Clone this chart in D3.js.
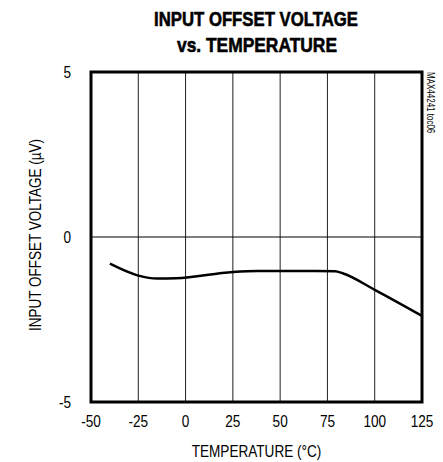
<!DOCTYPE html>
<html>
<head>
<meta charset="utf-8">
<script src="https://cdn.jsdelivr.net/npm/d3@7"></script>
<style>
  body { margin: 0; background: #fff; }
  text { font-family: "Liberation Sans", Arial, sans-serif; }
</style>
</head>
<body>
<div id="chart"></div>
<script>
var width = 443,
    height = 462;

// data
var temps = [-40, -25, -15, -5, 25, 38, 69, 79, 83, 100, 125];
var offsets = [-0.81, -1.17, -1.26, -1.25, -1.06, -1.03, -1.03, -1.04, -1.1, -1.6, -2.39];
var xTicks = [-50, -25, 0, 25, 50, 75, 100, 125];
var yTicks = [-5, 0, 5];

var margin = {left: 91, right: 21, top: 72, bottom: 60};
var narrow = 0.8;

var svg = d3.select("#chart").append("svg")
    .attr("width", width)
    .attr("height", height);

var x = d3.scaleLinear().domain([-50, 125]).range([margin.left, width - margin.right]);
var y = d3.scaleLinear().domain([-5, 5]).range([height - margin.bottom, margin.top]);

// places a horizontally squeezed text, to mimic a condensed face
function narrowText(px, py, str, size, anchor, rot) {
    var t = svg.append("text")
        .attr("transform", "translate(" + px + "," + py + ")" + (rot ? " rotate(" + rot + ")" : "") + " scale(" + narrow + ",1)")
        .attr("text-anchor", anchor || "middle")
        .attr("font-size", size + "px")
        .text(str);
    return t;
}

// vertical grid
svg.selectAll("line.vgrid")
    .data(xTicks.slice(1, -1))
    .enter().append("line")
    .attr("class", "vgrid")
    .attr("x1", d => x(d)).attr("x2", d => x(d))
    .attr("y1", y(5)).attr("y2", y(-5))
    .style("stroke", "#222")
    .style("stroke-width", 1);

// zero line
svg.append("line")
    .attr("x1", x(-50)).attr("x2", x(125))
    .attr("y1", y(0)).attr("y2", y(0))
    .style("stroke", "#000")
    .style("stroke-width", 1);

// data curve
var line = d3.line()
    .x(function (d, i) { return x(temps[i]); })
    .y(function (d) { return y(d); })
    .curve(d3.curveMonotoneX);

svg.append("path")
    .datum(offsets)
    .attr("d", line)
    .style("fill", "none")
    .style("stroke", "#000")
    .style("stroke-width", 2.5);

// frame
svg.append("rect")
    .attr("x", x(-50)).attr("y", y(5))
    .attr("width", x(125) - x(-50))
    .attr("height", y(-5) - y(5))
    .style("fill", "none")
    .style("stroke", "#000")
    .style("stroke-width", 3);

// tick labels
xTicks.forEach(function (d) {
    narrowText(x(d), 427, d, 17, "middle");
});
yTicks.forEach(function (d) {
    narrowText(71, y(d) + 6, d, 17, "end");
});

// axis titles
narrowText(x(37.5), 457, "TEMPERATURE (°C)", 17, "middle");
narrowText(41, 235, "INPUT OFFSET VOLTAGE (µV)", 17, "middle", -90)
    .attr("textLength", 240).attr("lengthAdjust", "spacingAndGlyphs");

// title
svg.append("text")
    .attr("x", 256).attr("y", 26)
    .attr("text-anchor", "middle")
    .attr("font-size", "21px")
    .attr("font-weight", "bold")
    .attr("textLength", 204).attr("lengthAdjust", "spacingAndGlyphs")
    .style("stroke", "#000").style("stroke-width", 0.6)
    .text("INPUT OFFSET VOLTAGE");

svg.append("text")
    .attr("x", 257).attr("y", 52)
    .attr("text-anchor", "middle")
    .attr("font-size", "21px")
    .attr("font-weight", "bold")
    .attr("textLength", 160).attr("lengthAdjust", "spacingAndGlyphs")
    .style("stroke", "#000").style("stroke-width", 0.6)
    .text("vs. TEMPERATURE");

// part number
narrowText(427, 72, "MAX44241 toc06", 10, "start", 90);
</script>
</body>
</html>
